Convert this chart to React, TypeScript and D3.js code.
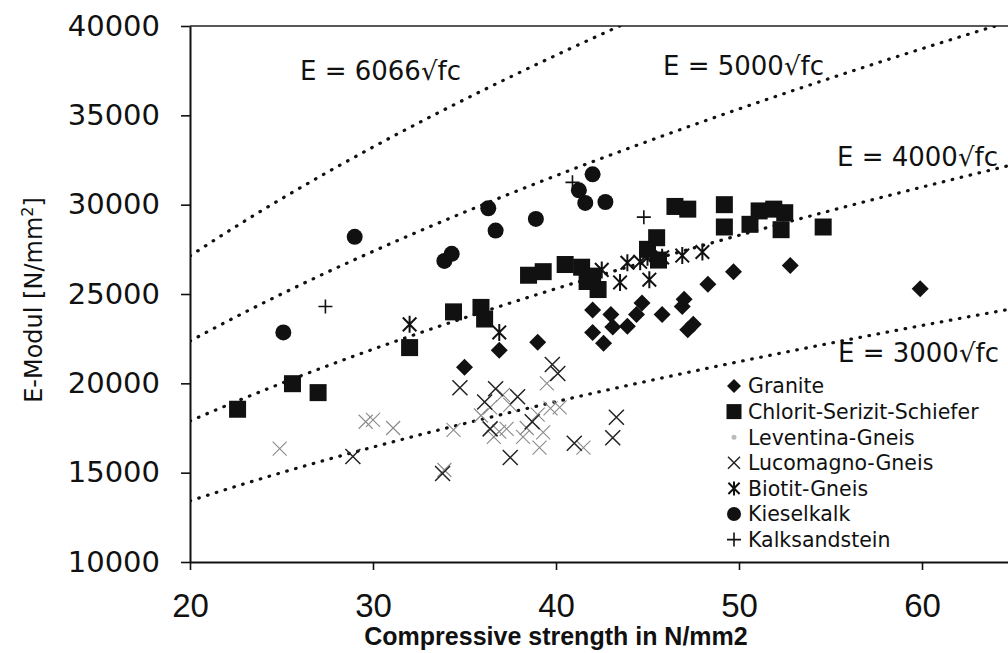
import { useEffect, useRef } from 'react';
import * as d3 from 'd3';

type Pt = [number, number];

// fc [N/mm2], E [N/mm2]
const granite: Pt[] = [
  [35.0, 20900], [36.9, 21850], [39.0, 22300], [42.0, 24100], [42.0, 22850],
  [42.6, 22250], [43.0, 23850], [43.1, 23150], [43.9, 23200], [44.4, 23850],
  [44.7, 24500], [45.8, 23850], [46.9, 24300], [47.0, 24700], [47.2, 23000],
  [47.5, 23300], [48.3, 25550], [49.7, 26250], [52.8, 26600], [59.9, 25300],
];
const chlorit: Pt[] = [
  [22.6, 18550], [25.6, 19980], [27.0, 19480], [32.0, 22000], [34.4, 24000],
  [35.9, 24250], [36.1, 23600], [38.5, 26050], [39.3, 26250], [40.5, 26650],
  [41.4, 26500], [41.7, 25700], [42.0, 26000], [42.3, 25250], [45.0, 27500],
  [45.5, 28150], [45.6, 26900], [46.5, 29900], [47.2, 29750], [49.2, 30000],
  [49.2, 28750], [50.6, 28900], [51.1, 29650], [51.9, 29750], [52.5, 29550],
  [52.3, 28600], [54.6, 28750],
];
const leventina: Pt[] = [
  [24.9, 16350], [29.6, 17850], [30.0, 17950], [31.1, 17500], [34.4, 17400],
  [33.9, 15150], [36.4, 18650], [35.9, 18200], [37.1, 19350], [37.5, 18800],
  [36.6, 17000], [36.9, 17300], [37.3, 17450], [38.4, 17500], [38.2, 17000],
  [39.0, 18250], [39.1, 16400], [39.3, 17250], [39.5, 20000], [40.2, 18650],
  [41.5, 16400], [39.7, 18600],
];
const lucomagno: Pt[] = [
  [28.9, 15900], [33.8, 14950], [34.75, 19750], [36.7, 19700], [36.4, 17450],
  [37.5, 15850], [38.7, 17850], [39.8, 21050], [40.1, 20550], [41.0, 16650],
  [43.1, 16950], [43.3, 18100], [36.1, 18950], [37.9, 19250],
];
const biotit: Pt[] = [
  [32.0, 23300], [36.9, 22850], [42.5, 26350], [43.5, 25650], [43.9, 26750],
  [44.6, 26800], [45.0, 27050], [45.1, 25800], [45.8, 27050], [46.9, 27150],
  [48.0, 27350],
];
const kieselkalk: Pt[] = [
  [25.1, 22850], [29.0, 28200], [33.9, 26850], [34.3, 27250], [36.3, 29800],
  [36.7, 28550], [38.9, 29200], [41.25, 30800], [41.6, 30100], [42.0, 31700],
  [42.7, 30150],
];
const kalksandstein: Pt[] = [[27.4, 24300], [40.9, 31250], [44.8, 29300]];

const seriesNames = [
  'Granite', 'Chlorit-Serizit-Schiefer', 'Leventina-Gneis', 'Lucomagno-Gneis',
  'Biotit-Gneis', 'Kieselkalk', 'Kalksandstein',
];
const seriesData = [granite, chlorit, leventina, lucomagno, biotit, kieselkalk, kalksandstein];
const seriesShapes = ['diamond', 'square', 'faint', 'cross', 'star', 'circle', 'plus'];

// E = k * sqrt(fc)
const curveFactors = [6066, 5000, 4000, 3000];
const curveLabels = ['6066', '5000', '4000', '3000'];

const xTicks = [20, 30, 40, 50, 60];
const yTicks = [10000, 15000, 20000, 25000, 30000, 35000, 40000];

const drawMarker = (g: any, shape: string, cx: number, cy: number, legend = false) => {
  const c = '#111';
  if (shape === 'diamond') {
    const r = legend ? 7 : 8.5;
    g.append('path').attr('d', `M${cx},${cy - r}L${cx + r},${cy}L${cx},${cy + r}L${cx - r},${cy}Z`).attr('fill', c);
  } else if (shape === 'square') {
    const s = legend ? 15 : 17;
    g.append('rect').attr('x', cx - s / 2).attr('y', cy - s / 2).attr('width', s).attr('height', s).attr('fill', c);
  } else if (shape === 'circle') {
    g.append('circle').attr('cx', cx).attr('cy', cy).attr('r', legend ? 7 : 8).attr('fill', c);
  } else if (shape === 'plus') {
    const r = 7;
    g.append('path').attr('d', `M${cx - r},${cy}H${cx + r}M${cx},${cy - r}V${cy + r}`)
      .attr('stroke', c).attr('stroke-width', 1.6);
  } else if (shape === 'cross') {
    const r = legend ? 6 : 7.5;
    g.append('path').attr('d', `M${cx - r},${cy - r}L${cx + r},${cy + r}M${cx - r},${cy + r}L${cx + r},${cy - r}`)
      .attr('stroke', '#222').attr('stroke-width', 1.5);
  } else if (shape === 'star') {
    const r = legend ? 7 : 8.5;
    const d = r * 0.8;
    g.append('path')
      .attr('d', `M${cx - d},${cy - d}L${cx + d},${cy + d}M${cx - d},${cy + d}L${cx + d},${cy - d}M${cx},${cy - r}V${cy + r}`)
      .attr('stroke', c).attr('stroke-width', 2);
  } else if (shape === 'faint') {
    if (legend) {
      g.append('circle').attr('cx', cx).attr('cy', cy).attr('r', 2.5).attr('fill', '#bbb');
    } else {
      const r = 7;
      g.append('path').attr('d', `M${cx - r},${cy - r}L${cx + r},${cy + r}M${cx - r},${cy + r}L${cx + r},${cy - r}`)
        .attr('stroke', '#8a8a8a').attr('stroke-width', 1.1);
    }
  }
};

const App = () => {
  const ref = useRef<SVGSVGElement>(null);

  useEffect(() => {
    const svg = d3.select(ref.current);
    svg.selectAll('*').remove();

    const x = d3.scaleLinear().domain([20, 65]).range([190, 1013.5]);
    const y = d3.scaleLinear().domain([10000, 40000]).range([562, 26]);

    svg.append('defs').append('clipPath').attr('id', 'plot')
      .append('rect').attr('x', 190).attr('y', 26).attr('width', 830).attr('height', 536);

    // frame top
    svg.append('line').attr('x1', 190).attr('x2', 1008).attr('y1', 26).attr('y2', 26)
      .attr('stroke', '#222').attr('stroke-width', 1.5);

    // reference curves
    const fcs = d3.range(20, 65.01, 0.25);
    const line = d3.line<number>().x(d => x(d)).y(d => y(d));
    curveFactors.forEach(k => {
      svg.append('path')
        .attr('clip-path', 'url(#plot)')
        .attr('d', line.y(d => y(k * Math.sqrt(d)))(fcs))
        .attr('fill', 'none').attr('stroke', '#111').attr('stroke-width', 3.2)
        .attr('stroke-linecap', 'round').attr('stroke-dasharray', '0.6 8.6');
    });

    const labelPos: Pt[] = [[300, 80], [663, 75], [837, 166], [838, 362]];
    curveLabels.forEach((t, i) => {
      svg.append('text').attr('x', labelPos[i][0]).attr('y', labelPos[i][1])
        .attr('font-family', 'DejaVu Sans').attr('font-size', 26).attr('fill', '#111')
        .attr('text-anchor', 'start')
        .text(`E = ${t}\u221Afc`);
    });

    // data
    const marks = svg.append('g');
    seriesData.forEach((data, i) => {
      data.forEach(([fc, e]) => drawMarker(marks, seriesShapes[i], x(fc), y(e)));
    });

    // axes
    const yAxis = svg.append('g').attr('transform', 'translate(190,0)')
      .call(d3.axisLeft(y).tickValues(yTicks).tickSize(9).tickSizeOuter(0).tickPadding(21).tickFormat(d => String(d)));
    yAxis.selectAll('text').attr('font-family', 'DejaVu Sans').attr('font-size', 29).attr('fill', '#111');

    const xAxis = svg.append('g').attr('transform', 'translate(0,562)')
      .call(d3.axisBottom(x).tickValues(xTicks).tickSize(8).tickSizeOuter(0).tickPadding(24).tickFormat(d => String(d)));
    xAxis.selectAll('text').attr('font-family', 'Liberation Sans').attr('font-size', 33).attr('fill', '#111');

    [yAxis, xAxis].forEach(a => {
      a.select('.domain').attr('stroke', '#111').attr('stroke-width', 2);
      a.selectAll('.tick line').attr('stroke', '#111').attr('stroke-width', 1.6);
    });

    svg.append('text').attr('x', 556).attr('y', 645).attr('text-anchor', 'middle')
      .attr('font-family', 'Liberation Sans').attr('font-weight', 'bold').attr('font-size', 25)
      .attr('fill', '#111').text('Compressive strength in N/mm2');

    const yt = svg.append('text').attr('transform', 'translate(42,300) rotate(-90)').attr('text-anchor', 'middle')
      .attr('font-family', 'DejaVu Sans').attr('font-size', 24).attr('fill', '#111');
    yt.append('tspan').text('E-Modul [N/mm');
    yt.append('tspan').attr('font-size', 16).attr('dy', -9).text('2');
    yt.append('tspan').attr('dy', 9).text(']');

    // legend
    const lg = svg.append('g');
    seriesNames.forEach((n, i) => {
      const ly = 386 + i * 25.6;
      drawMarker(lg, seriesShapes[i], 734, ly, true);
      lg.append('text').attr('x', 748).attr('y', ly).attr('dy', '0.36em')
        .attr('font-family', 'DejaVu Sans').attr('font-size', 20.5).attr('fill', '#111').text(n);
    });
  }, []);

  return (
    <svg ref={ref} width={1008} height={653}
      style={{ position: 'absolute', left: 0, top: 0, background: '#fff' }} />
  );
};

export default App;
